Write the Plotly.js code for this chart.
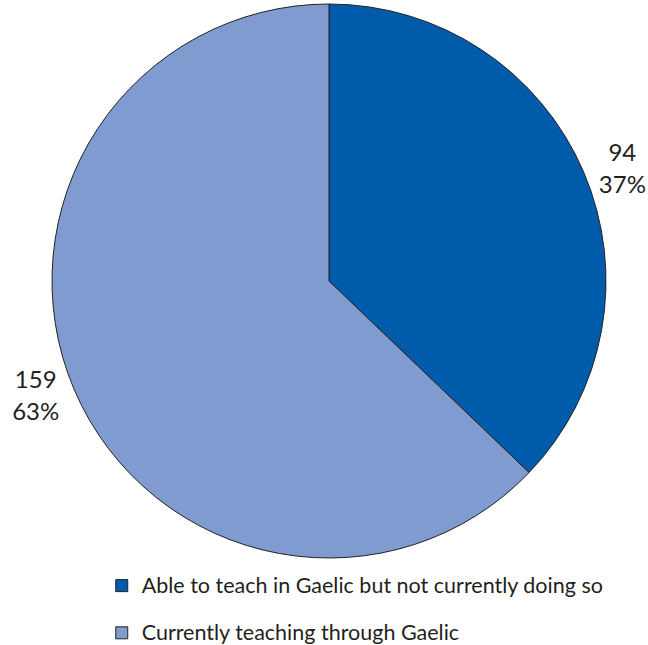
<!DOCTYPE html>
<html>
<head>
<meta charset="utf-8">
<script src="https://cdn.plot.ly/plotly-3.0.1.min.js"></script>
<style>html,body{margin:0;padding:0;background:#fff;}#chart{width:648px;height:645px;}</style>
</head>
<body>
<div id="chart"></div>
<script>
var categories = ["Able to teach in Gaelic but not currently doing so", "Currently teaching through Gaelic"];
var values = [94, 159];
var colors = ["#005BAA", "#7F9BCF"];

var trace = {
  type: "pie",
  labels: categories.map(function(c){ return '<span style="font-size:21.5px;baseline-shift:6px">' + c + '</span>'; }),
  values: values,
  sort: false,
  direction: "clockwise",
  rotation: 0,
  marker: { colors: colors, line: { color: "#222222", width: 1 } },
  textposition: "outside",
  texttemplate: "%{value}<br>%{percent:.0%}",
  outsidetextfont: { family: "Lato, 'Open Sans', sans-serif", size: 24, color: "#231F20" },
  hoverinfo: "none",
  domain: { x: [52/648, 606/648], y: [87/645, 641/645] },
  automargin: false
};

var layout = {
  width: 648, height: 645,
  margin: { l: 0, r: 0, t: 0, b: 0, autoexpand: false },
  paper_bgcolor: "#ffffff",
  showlegend: true,
  legend: {
    xref: "container", yref: "container",
    x: 0.157, y: 0.1364, xanchor: "left", yanchor: "top",
    font: { family: "Lato, 'Open Sans', sans-serif", size: 34, color: "#231F20" },
    bgcolor: "rgba(0,0,0,0)"
  }
};

Plotly.newPlot("chart", [trace], layout, { staticPlot: true });
</script>
</body>
</html>
